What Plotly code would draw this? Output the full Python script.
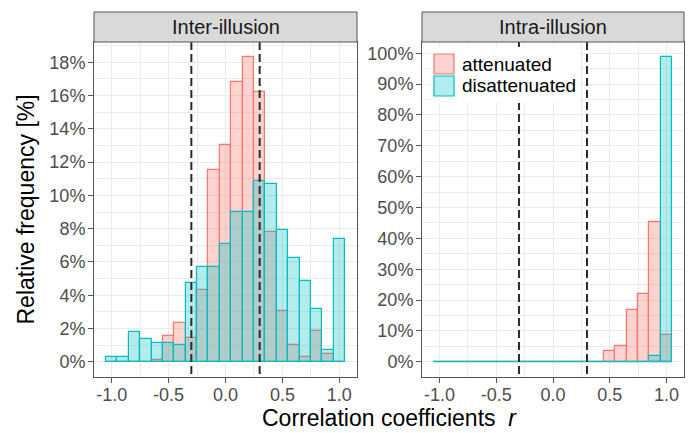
import plotly.graph_objects as go

# Canvas size in pixels
W, H = 697, 433

# Histogram bins (centres) shared by both panels
bin_centers = [-1.0, -0.9, -0.8, -0.7, -0.6, -0.5, -0.4, -0.3, -0.2, -0.1, 0.0,
               0.1, 0.2, 0.3, 0.4, 0.5, 0.6, 0.7, 0.8, 0.9, 1.0]
bin_width = 0.1

# Relative frequencies [%] per bin
inter_attenuated = [0, 0, 0, 0, 0.12, 1.56, 2.36, 1.42, 4.32, 11.54, 13.04,
                    16.82, 18.30, 16.24, 7.80, 3.06, 0.98, 0.29, 1.84, 0.46, 0]
inter_disattenuated = [0.28, 0.28, 1.81, 1.37, 1.13, 1.13, 0.98, 4.72, 5.68, 5.68, 7.10,
                       9.03, 9.03, 10.86, 10.71, 7.93, 6.22, 4.87, 3.17, 0.70, 7.36]
intra_attenuated = [0, 0, 0, 0, 0, 0, 0, 0, 0, 0, 0,
                    0, 0, 0, 0, 3.4, 5.2, 16.8, 21.9, 45.4, 8.6]
intra_disattenuated = [0, 0, 0, 0, 0, 0, 0, 0, 0, 0, 0,
                       0, 0, 0, 0, 0, 0, 0, 0, 1.77, 98.7]

panel_titles = ["Inter-illusion", "Intra-illusion"]
series_names = ["attenuated", "disattenuated"]
reference_r = [-0.3, 0.3]

x_tickvals = [-1.0, -0.5, 0.0, 0.5, 1.0]
x_ticktext = ["-1.0", "-0.5", "0.0", "0.5", "1.0"]
inter_y_tickvals = [0, 2, 4, 6, 8, 10, 12, 14, 16, 18]
inter_y_ticktext = ["0%", "2%", "4%", "6%", "8%", "10%", "12%", "14%", "16%", "18%"]
intra_y_tickvals = [0, 10, 20, 30, 40, 50, 60, 70, 80, 90, 100]
intra_y_ticktext = ["0%", "10%", "20%", "30%", "40%", "50%", "60%", "70%", "80%", "90%", "100%"]

x_title = "Correlation coefficients  <i>r</i>"
y_title = "Relative frequency [%]"

# Styling
FONT = "Liberation Sans, Arial, sans-serif"
ATT_LINE, ATT_FILL = "#F8766D", "rgba(248,118,109,0.32)"
DIS_LINE, DIS_FILL = "#00BFC4", "rgba(0,191,196,0.30)"
GRID = "#EBEBEB"
BORDER = "#555555"
TICK_TEXT = "#4D4D4D"

# Panel geometry (pixels)
panels_px = [(94, 357), (422, 684)]
top_px, bottom_px = 42, 377
strip_top_px = 12


def px_x(x):
    return x / W


def px_y(y):
    return 1 - y / H


x_lo = bin_centers[0] - bin_width / 2
x_hi = bin_centers[-1] + bin_width / 2
x_pad = 0.05 * (x_hi - x_lo)
x_range = [x_lo - x_pad, x_hi + x_pad]

fig = go.Figure()

panel_data = [
    (inter_attenuated, inter_disattenuated, inter_y_tickvals, inter_y_ticktext, 2),
    (intra_attenuated, intra_disattenuated, intra_y_tickvals, intra_y_ticktext, 10),
]

shapes = []
annotations = []

for k, (att, dis, ytv, ytt, ystep) in enumerate(panel_data):
    sfx = "" if k == 0 else str(k + 1)
    xa, ya = "x" + sfx, "y" + sfx

    fig.add_trace(go.Bar(
        x=bin_centers, y=att, width=bin_width, name=series_names[0],
        marker=dict(color=ATT_FILL, line=dict(color=ATT_LINE, width=1.2)),
        xaxis=xa, yaxis=ya, showlegend=False,
    ))
    fig.add_trace(go.Bar(
        x=bin_centers, y=dis, width=bin_width, name=series_names[1],
        marker=dict(color=DIS_FILL, line=dict(color=DIS_LINE, width=1.2)),
        xaxis=xa, yaxis=ya, showlegend=False,
    ))
    # Empty bins are drawn as a flat outline along zero
    if any(v == 0 for v in dis):
        fig.add_trace(go.Scatter(
            x=[x_lo, x_hi], y=[0, 0], mode="lines",
            line=dict(color=DIS_LINE, width=1.2),
            xaxis=xa, yaxis=ya, showlegend=False, hoverinfo="skip",
        ))

    ymax = max(max(att), max(dis))
    y_range = [-0.05 * ymax, 1.05 * ymax]

    left, right = panels_px[k]
    axis_common = dict(
        showline=True, linecolor=BORDER, linewidth=1, mirror=True,
        ticks="outside", ticklen=5, tickwidth=1, tickcolor=BORDER,
        tickfont=dict(family=FONT, size=18, color=TICK_TEXT),
        showgrid=True, gridcolor=GRID, gridwidth=1,
        zeroline=False, automargin=False, fixedrange=True,
    )
    fig.layout["xaxis" + sfx] = dict(
        axis_common, domain=[px_x(left), px_x(right)], range=x_range,
        tickmode="array", tickvals=x_tickvals, ticktext=x_ticktext,
        minor=dict(dtick=0.25, tick0=0.25, showgrid=True, gridcolor=GRID, gridwidth=0.6),
        ticklabelstandoff=-4,
        anchor=ya,
    )
    fig.layout["yaxis" + sfx] = dict(
        axis_common, domain=[px_y(bottom_px), px_y(top_px)], range=y_range,
        tickmode="array", tickvals=ytv, ticktext=ytt,
        minor=dict(dtick=ystep / 2, tick0=ystep / 2, showgrid=True, gridcolor=GRID, gridwidth=0.6),
        ticklabelstandoff=-1,
        anchor=xa,
    )

    # Reference correlation lines
    for r in reference_r:
        shapes.append(dict(
            type="line", xref=xa, yref=ya + " domain", x0=r, x1=r, y0=1, y1=0,
            line=dict(color="#2B2B2B", width=2, dash="8px,4px"), layer="above",
        ))

    # Facet strip
    shapes.append(dict(
        type="rect", xref="paper", yref="paper",
        x0=px_x(left), x1=px_x(right), y0=px_y(top_px), y1=px_y(strip_top_px),
        fillcolor="#D9D9D9", line=dict(color=BORDER, width=1), layer="above",
    ))
    annotations.append(dict(
        text=panel_titles[k], xref="paper", yref="paper",
        x=px_x((left + right) / 2), y=px_y((strip_top_px + top_px) / 2),
        xanchor="center", yanchor="middle", showarrow=False,
        font=dict(family=FONT, size=20, color="#1A1A1A"),
    ))

# Legend inside the right panel
leg_box = (430, 47, 580, 103)
shapes.append(dict(
    type="rect", xref="paper", yref="paper",
    x0=px_x(leg_box[0]), x1=px_x(leg_box[2]), y0=px_y(leg_box[3]), y1=px_y(leg_box[1]),
    fillcolor="white", line=dict(width=0), layer="above",
))
key_specs = [(ATT_FILL, ATT_LINE, 54), (DIS_FILL, DIS_LINE, 76)]
for (fill, line, ky), name in zip(key_specs, series_names):
    shapes.append(dict(
        type="rect", xref="paper", yref="paper",
        x0=px_x(434), x1=px_x(454), y0=px_y(ky + 20), y1=px_y(ky),
        fillcolor=fill, line=dict(color=line, width=1.2), layer="above",
    ))
    annotations.append(dict(
        text=name, xref="paper", yref="paper",
        x=px_x(460), y=px_y(ky + 10), xanchor="left", yanchor="middle",
        showarrow=False, font=dict(family=FONT, size=19, color="#000000"),
    ))

# Axis titles
annotations.append(dict(
    text=x_title, xref="paper", yref="paper",
    x=px_x((panels_px[0][0] + panels_px[1][1]) / 2), y=0,
    xanchor="center", yanchor="bottom", showarrow=False,
    font=dict(family=FONT, size=23, color="#000000"),
))
annotations.append(dict(
    text=y_title, xref="paper", yref="paper",
    x=px_x(25), y=px_y((top_px + bottom_px) / 2),
    xanchor="center", yanchor="middle", textangle=-90, showarrow=False,
    font=dict(family=FONT, size=23, color="#000000"),
))

fig.update_layout(
    width=W, height=H,
    margin=dict(l=0, r=0, t=0, b=0),
    paper_bgcolor="white", plot_bgcolor="white",
    barmode="overlay", bargap=0,
    shapes=shapes, annotations=annotations,
    showlegend=False,
)

fig.write_html("out.html", config={"displayModeBar": False})
